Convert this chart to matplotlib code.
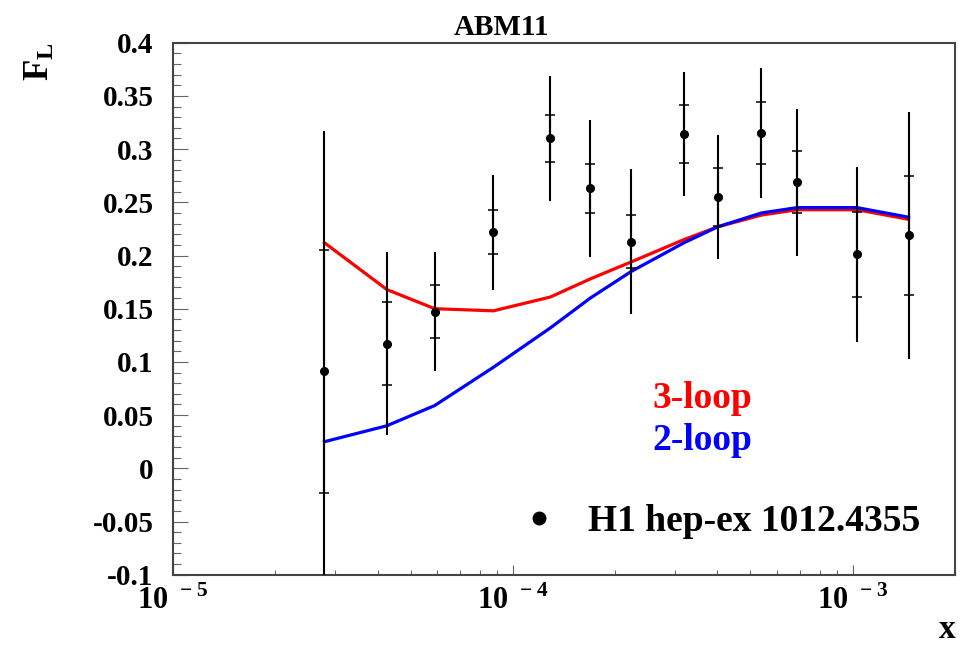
import numpy as np
import matplotlib
matplotlib.use("Agg")
import matplotlib.pyplot as plt
from matplotlib.ticker import FixedLocator, LogLocator, MultipleLocator, FuncFormatter, NullFormatter
from matplotlib.lines import Line2D

plt.rcParams['font.family'] = ['Liberation Serif', 'DejaVu Serif']
plt.rcParams['font.weight'] = 'bold'
plt.rcParams['mathtext.fontset'] = 'custom'
plt.rcParams['mathtext.rm'] = 'Liberation Serif:bold'
plt.rcParams['mathtext.bf'] = 'Liberation Serif:bold'
plt.rcParams['axes.unicode_minus'] = False

# H1 data (hep-ex 1012.4355)
x = [2.79e-5, 4.26e-5, 5.89e-5, 8.77e-5, 1.29e-4, 1.69e-4, 2.23e-4,
     3.19e-4, 4.01e-4, 5.39e-4, 6.86e-4, 1.03e-3, 1.46e-3]
fl = [0.091, 0.117, 0.147, 0.222, 0.310, 0.263, 0.213,
      0.314, 0.255, 0.315, 0.269, 0.201, 0.219]
err_stat = [0.114, 0.039, 0.025, 0.021, 0.022, 0.023, 0.025,
            0.027, 0.027, 0.029, 0.029, 0.040, 0.056]
err_tot = [0.226, 0.086, 0.056, 0.054, 0.059, 0.064, 0.068,
           0.058, 0.058, 0.061, 0.069, 0.082, 0.116]

# ABM11 predictions
fl_3loop = [0.212, 0.168, 0.150, 0.148, 0.161, 0.178, 0.194,
            0.215, 0.227, 0.238, 0.243, 0.243, 0.234]
fl_2loop = [0.025, 0.040, 0.059, 0.095, 0.132, 0.160, 0.185,
            0.212, 0.227, 0.240, 0.245, 0.245, 0.236]

fig = plt.figure(figsize=(9.68, 6.48), dpi=100)
ax = fig.add_axes([0.1787, 0.1131, 0.8079, 0.8210])

ax.plot(x, fl_3loop, color='#ff0000', lw=2.3, zorder=2)
ax.plot(x, fl_2loop, color='#0000ff', lw=2.3, zorder=2)

# total error (no caps) and stat error (small ticks)
ax.errorbar(x, fl, yerr=err_tot, fmt='none', ecolor='black', elinewidth=1.5, capsize=0, zorder=3)
ax.errorbar(x, fl, yerr=err_stat, fmt='o', color='black', ms=5.5, elinewidth=1.5,
            capsize=3.8, capthick=1.1, zorder=4)

ax.set_xscale('log')
ax.set_xlim(1e-5, 2e-3)
ax.set_ylim(-0.1, 0.4)

ax.yaxis.set_major_locator(MultipleLocator(0.05))
ax.yaxis.set_minor_locator(MultipleLocator(0.01))
ax.yaxis.set_major_formatter(FuncFormatter(lambda v, p: '%g' % round(v, 3)))
ax.xaxis.set_major_locator(FixedLocator([1e-5, 1e-4, 1e-3]))
ax.xaxis.set_minor_locator(LogLocator(base=10, subs=np.arange(2, 10)))
ax.xaxis.set_minor_formatter(NullFormatter())
ax.xaxis.set_major_formatter(FuncFormatter(lambda v, p: r'$10^{\,\,%d}$' % round(np.log10(v))))

ax.tick_params(axis='y', which='major', direction='in', length=11, width=0.8, color='#666666',
               labelsize=21, pad=14, right=False)
ax.tick_params(axis='y', which='minor', direction='in', length=6, width=0.8, color='#666666', right=False)
ax.tick_params(axis='x', which='major', direction='in', length=7, width=0.8, color='#666666',
               labelsize=22, pad=8, top=False)
ax.tick_params(axis='x', which='minor', direction='in', length=3.5, width=0.8, color='#666666', top=False)

for s in ax.spines.values():
    s.set_color('#444444')
    s.set_linewidth(1.5)

fig.text(0.518, 0.978, 'ABM11', ha='center', va='top', fontsize=21, fontweight='bold')
ax.text(-0.17, 1.0, r'$\mathrm{F_{L}}$', transform=ax.transAxes, rotation=90,
        ha='center', va='top', fontsize=25)
ax.text(1.0, -0.132, 'x', transform=ax.transAxes, ha='right', va='bottom', fontsize=24)

ax.text(0.613, 0.332, '3-loop', transform=ax.transAxes, color='#ff0000', fontsize=27,
        ha='left', va='center')
ax.text(0.613, 0.253, '2-loop', transform=ax.transAxes, color='#0000ff', fontsize=27,
        ha='left', va='center')

h1 = Line2D([], [], marker='o', ls='none', color='black', ms=9)
ax.legend([h1], ['H1 hep-ex 1012.4355'], loc='center right', bbox_to_anchor=(0.955, 0.10),
          frameon=False, fontsize=27, handlelength=1.0, handletextpad=0.8,
          borderpad=0, borderaxespad=0)

fig.savefig('out.png', dpi=100)
